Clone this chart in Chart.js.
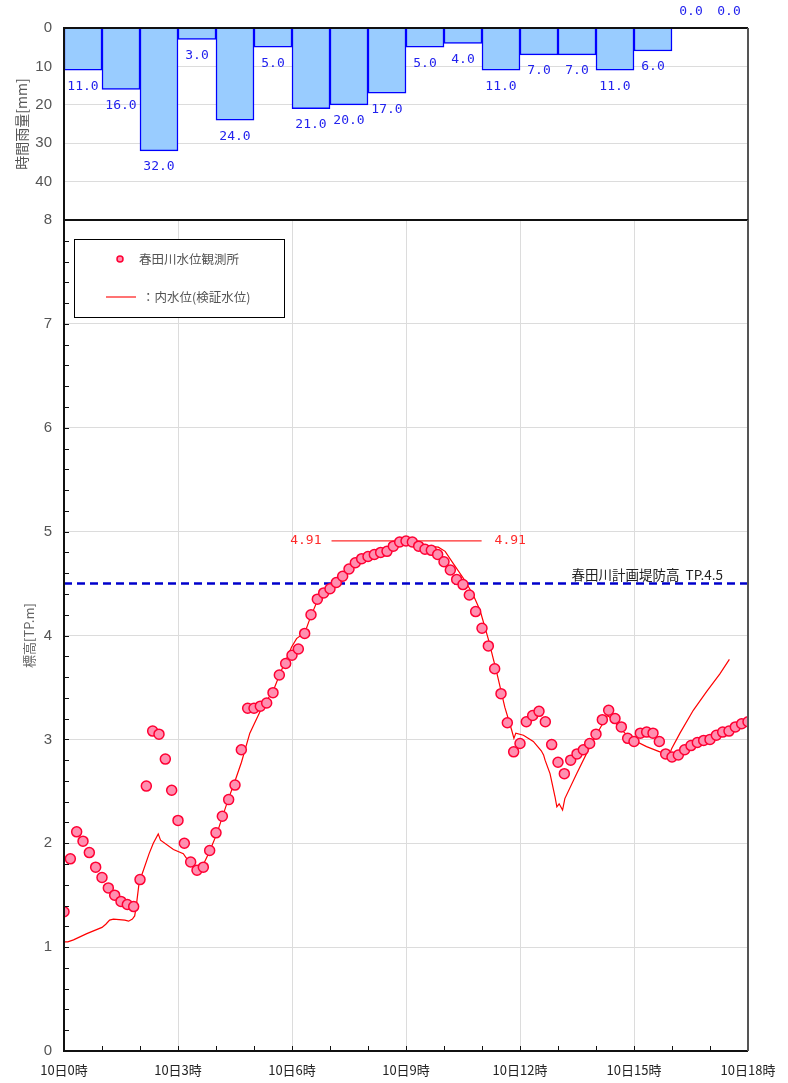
<!DOCTYPE html>
<html lang="ja">
<head>
<meta charset="UTF-8">
<title>春田川 水位・時間雨量</title>
<script src="https://cdn.jsdelivr.net/npm/chart.js@4"></script>
<style>
  body { margin: 0; background: #fff; }
  #wrap { position: relative; width: 788px; height: 1083px; }
  canvas { position: absolute; left: 0; }
  #rainChart { top: 0; }
  #levelChart { top: 200px; }
</style>
</head>
<body>
<div id="wrap">
  <canvas id="rainChart" width="788" height="221"></canvas>
  <canvas id="levelChart" width="788" height="883"></canvas>
</div>
<script>
// 時間雨量 [mm] (各時間帯の開始時刻)
const rainStart  = [0, 1, 2, 3, 4, 5, 6, 7, 8, 9, 10, 11, 12, 13, 14, 15, 16, 17];
const rainValues = [11, 16, 32, 3, 24, 5, 21, 20, 17, 5, 4, 11, 7, 7, 11, 6, 0, 0];

// 春田川水位観測所 (10分毎, 10日0時〜18時) [TP.m]
const levelValues = [
  1.34, 1.85, 2.11, 2.02, 1.91, 1.77, 1.67, 1.57, 1.50, 1.44, 1.41, 1.39,
  1.65, 2.55, 3.08, 3.05, 2.81, 2.51, 2.22, 2.00, 1.82, 1.74, 1.77, 1.93,
  2.10, 2.26, 2.42, 2.56, 2.90, 3.30, 3.30, 3.32, 3.35, 3.45, 3.62, 3.73,
  3.81, 3.87, 4.02, 4.20, 4.35, 4.41, 4.45, 4.51, 4.57, 4.64, 4.70, 4.74,
  4.76, 4.78, 4.80, 4.81, 4.86, 4.90, 4.91, 4.90, 4.86, 4.83, 4.82, 4.78,
  4.71, 4.63, 4.54, 4.49, 4.39, 4.23, 4.07, 3.90, 3.68, 3.44, 3.16, 2.88,
  2.96, 3.17, 3.23, 3.27, 3.17, 2.95, 2.78, 2.67, 2.80, 2.86, 2.90, 2.96,
  3.05, 3.19, 3.28, 3.20, 3.12, 3.01, 2.98, 3.06, 3.07, 3.06, 2.98, 2.86,
  2.83, 2.85, 2.90, 2.94, 2.97, 2.99, 3.00, 3.04, 3.07, 3.08, 3.12, 3.15,
  3.17
];

// 内水位(検証水位)
const innerTimes = [
  0, 0.1, 0.25, 0.6, 1.0, 1.1, 1.2, 1.3, 1.6, 1.7, 1.8, 1.86, 1.9, 1.98,
  2.09, 2.24, 2.35, 2.48, 2.54, 2.88, 3.14, 3.27, 3.49, 3.62, 3.83, 4.02,
  4.32, 4.5, 4.67, 4.89, 5.2, 5.51, 5.68, 5.99, 6.12, 6.34, 6.47, 6.65,
  7.0, 7.35, 7.7, 8.05, 8.49, 8.84, 9.02, 9.19, 9.54, 9.85, 10.03, 10.25,
  10.55, 10.77, 10.95, 11.17, 11.39, 11.6, 11.78, 11.84, 11.89, 12.09,
  12.35, 12.56, 12.62, 12.66, 12.79, 12.92, 12.97, 13.03, 13.12, 13.18,
  13.49, 13.84, 14.11, 14.3, 14.41, 14.63, 14.89, 15.33, 15.68, 15.95,
  15.99, 16.21, 16.56, 16.91, 17.26, 17.51
];
const innerValues = [
  1.05, 1.05, 1.07, 1.13, 1.19, 1.22, 1.26, 1.27, 1.26, 1.25, 1.27, 1.30, 1.39, 1.63,
  1.74, 1.90, 2.00, 2.09, 2.03, 1.94, 1.90, 1.83, 1.74, 1.76, 1.92, 2.09,
  2.42, 2.60, 2.78, 3.06, 3.30, 3.47, 3.63, 3.89, 3.97, 4.03, 4.16, 4.32,
  4.47, 4.59, 4.71, 4.79, 4.85, 4.90, 4.92, 4.89, 4.86, 4.85, 4.81, 4.69,
  4.53, 4.39, 4.24, 3.96, 3.64, 3.31, 3.09, 3.01, 3.06, 3.04,
  2.98, 2.89, 2.85, 2.80, 2.67, 2.45, 2.35, 2.38, 2.32, 2.43,
  2.67, 2.93, 3.11, 3.23, 3.20, 3.11, 3.01, 2.93, 2.88, 2.87,
  2.91, 3.06, 3.28, 3.46, 3.63, 3.77
];

const peakLevel = 4.91;
const peakFrom = 7.04, peakTo = 10.99;
const dikeLevel = 4.5;
const dikeLabel = '春田川計画堤防高  TP.4.5';

const xTicks = [0, 3, 6, 9, 12, 15, 18];

Chart.defaults.font.family = "'Noto Sans CJK JP', 'Noto Sans', sans-serif";
const monoFont = "13px 'DejaVu Sans Mono', monospace";

// 軸の余白はレイアウト側で管理する
function fixWidth(s) { s.width = 64; s.paddingTop = 0; s.paddingBottom = 0; }

// 枠線
const frame = {
  id: 'frame',
  afterDraw(chart) {
    const { ctx, chartArea: a } = chart;
    ctx.save();
    ctx.lineWidth = 2;
    ctx.strokeStyle = '#111';
    ctx.beginPath();
    ctx.moveTo(a.right, a.top); ctx.lineTo(a.left, a.top);
    ctx.lineTo(a.left, a.bottom); ctx.lineTo(a.right, a.bottom);
    ctx.stroke();
    ctx.strokeStyle = '#555';
    ctx.beginPath();
    ctx.moveTo(a.right, a.top); ctx.lineTo(a.right, a.bottom);
    ctx.stroke();
    ctx.restore();
  }
};

// 雨量の数値ラベル
const rainLabels = {
  id: 'rainLabels',
  afterDatasetsDraw(chart) {
    const { ctx, chartArea } = chart;
    const meta = chart.getDatasetMeta(0);
    ctx.save();
    ctx.font = monoFont;
    ctx.fillStyle = '#2222ee';
    ctx.textAlign = 'center';
    ctx.textBaseline = 'middle';
    meta.data.forEach((bar, i) => {
      const v = rainValues[i];
      const y = v > 0 ? bar.y + 16 : chartArea.top - 16;
      ctx.fillText(v.toFixed(1), bar.x, y);
    });
    ctx.restore();
  }
};

// 小目盛り
const minorTicks = {
  id: 'minorTicks',
  afterDraw(chart) {
    const { ctx } = chart;
    const x = chart.scales.x, y = chart.scales.y;
    ctx.save();
    ctx.strokeStyle = '#111';
    ctx.lineWidth = 1;
    ctx.beginPath();
    for (let h = 0; h <= 18; h++) {
      const px = Math.round(x.getPixelForValue(h)) + 0.5;
      ctx.moveTo(px, y.bottom); ctx.lineTo(px, y.bottom - 5);
    }
    for (let k = 0; k <= 40; k++) {
      const py = Math.round(y.getPixelForValue(k / 5)) + 0.5;
      ctx.moveTo(x.left, py); ctx.lineTo(x.left + 5, py);
    }
    ctx.stroke();
    ctx.restore();
  }
};

// 注記 (最高水位・計画堤防高)
const notes = {
  id: 'notes',
  afterDatasetsDraw(chart) {
    const { ctx } = chart;
    const x = chart.scales.x, y = chart.scales.y;
    ctx.save();
    ctx.font = monoFont;
    ctx.fillStyle = '#ff2a2a';
    ctx.textBaseline = 'middle';
    const py = y.getPixelForValue(peakLevel);
    ctx.textAlign = 'right';
    ctx.fillText(peakLevel.toFixed(2), x.getPixelForValue(peakFrom) - 10, py);
    ctx.textAlign = 'left';
    ctx.fillText(peakLevel.toFixed(2), x.getPixelForValue(peakTo) + 13, py);
    ctx.font = "13.5px 'Noto Sans CJK JP', sans-serif";
    ctx.fillStyle = '#222';
    ctx.textAlign = 'right';
    ctx.fillText(dikeLabel, x.right - 25, y.getPixelForValue(dikeLevel) - 9);
    ctx.restore();
  }
};

// 凡例
const levelLegend = {
  id: 'levelLegend',
  afterDraw(chart) {
    const { ctx, chartArea: a } = chart;
    const bx = a.left + 10, by = a.top + 19, bw = 210, bh = 78;
    ctx.save();
    ctx.fillStyle = '#fff';
    ctx.fillRect(bx, by, bw, bh);
    ctx.strokeStyle = '#000';
    ctx.lineWidth = 1;
    ctx.strokeRect(bx + 0.5, by + 0.5, bw, bh);
    ctx.beginPath();
    ctx.arc(bx + 46, by + 20, 3, 0, Math.PI * 2);
    ctx.fillStyle = '#ff8fb0';
    ctx.fill();
    ctx.strokeStyle = '#ff0033';
    ctx.lineWidth = 1.5;
    ctx.stroke();
    ctx.strokeStyle = '#ff4444';
    ctx.lineWidth = 1.5;
    ctx.beginPath();
    ctx.moveTo(bx + 32, by + 58); ctx.lineTo(bx + 62, by + 58);
    ctx.stroke();
    ctx.font = "12.5px 'Noto Sans CJK JP', sans-serif";
    ctx.fillStyle = '#555';
    ctx.textAlign = 'left';
    ctx.textBaseline = 'middle';
    ctx.fillText(chart.data.datasets[0].label, bx + 65, by + 20);
    ctx.fillText(chart.data.datasets[1].label, bx + 68, by + 58);
    ctx.restore();
  }
};

new Chart(document.getElementById('rainChart'), {
  type: 'bar',
  data: {
    datasets: [{
      label: '時間雨量',
      data: rainValues.map((v, i) => ({ x: rainStart[i] + 0.5, y: v })),
      backgroundColor: '#99ccff',
      borderColor: '#0000ff',
      borderWidth: 1.5,
      barPercentage: 1,
      categoryPercentage: 1
    }]
  },
  options: {
    responsive: false,
    animation: false,
    layout: { padding: { top: 28, right: 40, bottom: 1, left: 0 } },
    plugins: { legend: { display: false }, tooltip: { enabled: false } },
    scales: {
      x: { type: 'linear', min: 0, max: 18, offset: false, display: false },
      y: {
        min: 0, max: 50, reverse: true,
        afterFit: fixWidth,
        ticks: {
          stepSize: 10, padding: 12, color: '#555',
          font: { family: "'Liberation Sans', Arial, sans-serif", size: 15 },
          callback: v => (v === 50 ? '' : v)
        },
        grid: {
          drawTicks: false,
          color: c => (c.tick.value % 50 === 0 ? 'rgba(0,0,0,0)' : '#dcdcdc')
        },
        border: { display: false },
        title: {
          display: true, text: '時間雨量[mm]', color: '#555',
          font: { size: 14 }, padding: { top: 13, bottom: 0 }
        }
      }
    }
  },
  plugins: [rainLabels, frame]
});

new Chart(document.getElementById('levelChart'), {
  type: 'scatter',
  data: {
    datasets: [
      {
        label: '春田川水位観測所',
        data: levelValues.map((v, i) => ({ x: i / 6, y: v })),
        pointRadius: 5,
        pointBackgroundColor: '#ff8fb0',
        pointBorderColor: '#ff0033',
        pointBorderWidth: 1.5,
        showLine: false
      },
      {
        label: '：内水位(検証水位)',
        data: innerValues.map((v, i) => ({ x: innerTimes[i], y: v })),
        showLine: true,
        borderColor: '#ff0000',
        borderWidth: 1.2,
        pointRadius: 0
      },
      {
        label: '最高水位',
        data: [{ x: peakFrom, y: peakLevel }, { x: peakTo, y: peakLevel }],
        showLine: true,
        borderColor: '#ff2a2a',
        borderWidth: 1.2,
        pointRadius: 0
      },
      {
        label: '計画堤防高',
        data: [{ x: 0, y: dikeLevel }, { x: 18, y: dikeLevel }],
        showLine: true,
        borderColor: '#0000cc',
        borderWidth: 2.5,
        borderDash: [8, 5],
        pointRadius: 0
      }
    ]
  },
  options: {
    responsive: false,
    animation: false,
    layout: { padding: { top: 20, right: 40, bottom: 0, left: 0 } },
    plugins: { legend: { display: false }, tooltip: { enabled: false } },
    scales: {
      x: {
        type: 'linear', min: 0, max: 18,
        afterFit(s) { s.height = 32; s.paddingLeft = 0; s.paddingRight = 0; },
        afterBuildTicks(s) { s.ticks = xTicks.map(v => ({ value: v })); },
        ticks: {
          padding: 11, color: '#222', maxRotation: 0, autoSkip: false,
          font: { size: 13 },
          callback: v => '10日' + v + '時'
        },
        grid: { color: '#dcdcdc', drawTicks: false },
        border: { display: false }
      },
      y: {
        min: 0, max: 8,
        afterFit: fixWidth,
        ticks: {
          stepSize: 1, padding: 12, color: '#555',
          font: { family: "'Liberation Sans', Arial, sans-serif", size: 15 }
        },
        grid: { color: '#dcdcdc', drawTicks: false },
        border: { display: false },
        title: {
          display: true, text: '標高[TP.m]', color: '#666',
          font: { size: 13 }, padding: { top: 21, bottom: 0 }
        }
      }
    }
  },
  plugins: [notes, levelLegend, minorTicks, frame]
});
</script>
</body>
</html>
